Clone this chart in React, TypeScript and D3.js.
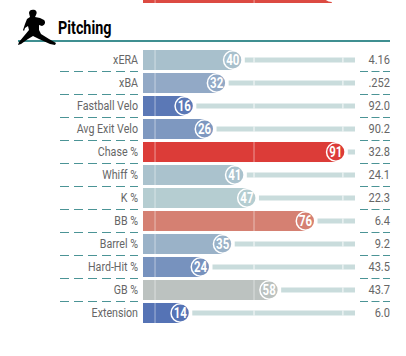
import React from "react";
import * as d3 from "d3";

const labels = ["xERA","xBA","Fastball Velo","Avg Exit Velo","Chase %","Whiff %","K %","BB %","Barrel %","Hard-Hit %","GB %","Extension"];
const percentiles = [40,32,16,26,91,41,47,76,35,24,58,14];
const values = ["4.16",".252","92.0","90.2","32.8","24.1","22.3","6.4","9.2","43.5","43.7","6.0"];
const colorStops = [[14,"#5573b5"],[16,"#5b78b6"],[24,"#7792be"],[32,"#92a9c6"],[40,"#a8c0cc"],[47,"#b5cdd1"],[58,"#bcc2c0"],[76,"#d58072"],[91,"#dc3c38"]] as [number,string][];
const gridPercentiles = [1.5,50.5,94.5];
const previousPercentile = 89;

const x = d3.scaleLinear().domain([0,100]).range([152,354]);
const y = d3.scaleBand<number>().domain(d3.range(12)).range([50,323]).paddingInner(0.13).paddingOuter(0);
const color = d3.scaleLinear<string>().domain(colorStops.map(d=>d[0])).range(colorStops.map(d=>d[1])).interpolate(d3.interpolateRgb);

const FONT = "Roboto, sans-serif";
const pitcher = "M29 13 C29 10 32 9 35 10 C37 11 37 13 36 15 L35 17 L40 18 L44 20 C46 22 45 25 42 26 L39 25 L39 30 L41 34 L49 39 L56 43 L55 45 L50 44 L39 39 L33 36 L28 39 L21 44 L18 45 L19 42 L24 36 L29 30 L28 26 L25 28 L24 31 L23 30 L25 24 L27 19 L30 17 Z";

export default function App() {
  const bw = y.bandwidth();
  return (
    <svg width={406} height={356} style={{position:"absolute",left:0,top:0,background:"#fff"}}>
      <rect x={143} y={-8} width={x(previousPercentile)-143} height={11} fill="#dc4a42"/>
      <rect x={154.5} y={0} width={1.2} height={3} fill="#fff" opacity={0.4}/>
      <rect x={253.5} y={0} width={1.2} height={3} fill="#fff" opacity={0.4}/>
      <circle cx={x(previousPercentile)} cy={-8} r={10} fill="#fff"/>
      <circle cx={x(previousPercentile)} cy={-8} r={8} fill="#dc4a42"/>
      <rect x={18} y={40} width={372} height={2} fill="#3f8f91"/>
      <path d={pitcher} fill="#000"/>
      <text x={0} y={0} fontFamily={FONT} fontWeight={700} fontSize={17.5} transform="translate(58,34) scale(0.82,1)">Pitching</text>
      {labels.map((lab,i)=>{
        const top = y(i)!;
        const cy = top+bw/2;
        const cx = x(percentiles[i]);
        const c = color(percentiles[i]);
        const dashY = Math.floor(top+bw+1)+0.5;
        return (
          <g key={lab}>
            <rect x={cx+12} y={cy-2.5} width={Math.max(0,355-cx-12)} height={5} fill="#c9dcdc"/>
            <rect x={143} y={top} width={cx-143} height={bw} fill={c}/>
            {gridPercentiles.map(g=>(
              <rect key={g} x={x(g)-0.6} y={x(g)<cx?top:cy-2.5} width={1.2} height={x(g)<cx?bw:5} fill="#fff" opacity={x(g)<cx?0.4:0.75}/>
            ))}
            <circle cx={cx} cy={cy} r={10} fill="#fff"/>
            <circle cx={cx} cy={cy} r={8.5} fill={c}/>
            <text x={0} y={0} textAnchor="middle" fontFamily={FONT} fontWeight={700} fontSize={14} fill="#fff" transform={`translate(${cx},${cy+4.8}) scale(0.82,1)`}>{percentiles[i]}</text>
            <text x={0} y={0} textAnchor="end" fontFamily={FONT} fontSize={13.5} fill="#666" transform={`translate(138,${cy+4}) scale(0.79,1)`}>{lab}</text>
            <text x={0} y={0} textAnchor="end" fontFamily={FONT} fontSize={13.5} fill="#666" transform={`translate(390,${cy+4}) scale(0.82,1)`}>{values[i]}</text>
            {i<11 && <g stroke="#4b9496" strokeWidth={1}>
              <line x1={60} x2={138} y1={dashY} y2={dashY} strokeDasharray="9 5"/>
              <line x1={360} x2={390} y1={dashY} y2={dashY} strokeDasharray="8 3.5"/>
            </g>}
          </g>
        );
      })}
    </svg>
  );
}
